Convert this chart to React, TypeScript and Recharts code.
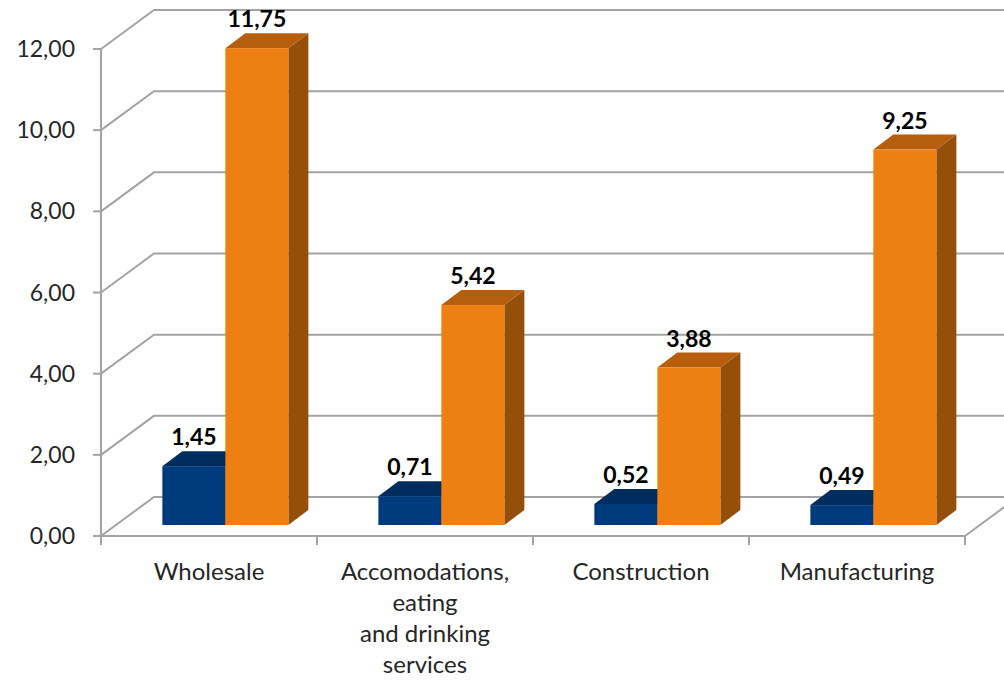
import React from "react";
import { BarChart, Bar, XAxis, YAxis, CartesianGrid, LabelList } from "recharts";

const categories = ["Wholesale", "Accomodations,\neating\nand drinking\nservices", "Construction", "Manufacturing"];
const blueValues = [1.45, 0.71, 0.52, 0.49];
const orangeValues = [11.75, 5.42, 3.88, 9.25];
const yTicks = [0, 2, 4, 6, 8, 10, 12];

const W = 1004, H = 680;
const M = { top: 49, right: 39, bottom: 0, left: 0 };
const Y_W = 101;
const X_H = 144;
const PLOT_W = W - M.left - M.right - Y_W;

// 3d look: back wall offset, bar offset inside the depth, bar depth
const WALL_DX = 53, WALL_DY = -39;
const SHIFT_X = 16, SHIFT_Y = -11;
const DEPTH_X = 20, DEPTH_Y = -15;

const GRID = "#a3a3a3";
const TEXT = "#262626";
const FONT = "Lato, 'Noto Sans', sans-serif";

const data = categories.map((c, i) => ({ name: c, blue: blueValues[i], orange: orangeValues[i] }));

const fmt = (v: number) => v.toFixed(2).replace(".", ",");

function make3d(front: string, top: string, side: string) {
  return (p: any) => {
    const { x, y, width: w, height: h } = p;
    if (w == null || h == null) return null;
    const fx = x + SHIFT_X, fy = y + SHIFT_Y;
    return (
      <g>
        <polygon
          points={`${fx + w},${fy} ${fx + w + DEPTH_X},${fy + DEPTH_Y} ${fx + w + DEPTH_X},${fy + h + DEPTH_Y} ${fx + w},${fy + h}`}
          fill={side}
        />
        <polygon
          points={`${fx},${fy} ${fx + DEPTH_X},${fy + DEPTH_Y} ${fx + w + DEPTH_X},${fy + DEPTH_Y} ${fx + w},${fy}`}
          fill={top}
        />
        <rect x={fx} y={fy} width={w} height={h} fill={front} />
      </g>
    );
  };
}

function ValueLabel(p: any) {
  const { x, y, width: w, value } = p;
  return (
    <text x={x + SHIFT_X + w / 2} y={y + SHIFT_Y + DEPTH_Y - 6} textAnchor="middle"
      fontFamily={FONT} fontWeight={700} fontSize={23} fill="#000">
      {fmt(value)}
    </text>
  );
}

function GridLine(p: any) {
  const { x1, x2, y1, index } = p;
  const bx = x1 + WALL_DX, by = y1 + WALL_DY;
  return (
    <g key={`g-${index}-${y1}`}>
      <polyline points={`${x1},${y1} ${bx},${by} ${x2 + WALL_DX + 40},${by}`} fill="none" stroke={GRID} strokeWidth={2} />
      {y1 > 500 && (
        <line x1={x2} y1={y1} x2={x2 + WALL_DX} y2={by} stroke={GRID} strokeWidth={2} />
      )}
    </g>
  );
}

function CatTick(p: any) {
  const { x, y, payload, index } = p;
  const half = PLOT_W / categories.length / 2;
  const lines = String(payload.value).split("\n");
  return (
    <g>
      <line x1={x - half} y1={y} x2={x - half} y2={y + 9} stroke={GRID} strokeWidth={2} />
      {index === categories.length - 1 && (
        <line x1={x + half} y1={y} x2={x + half} y2={y + 9} stroke={GRID} strokeWidth={2} />
      )}
      <text textAnchor="middle" fontFamily={FONT} fontSize={24} fill={TEXT}>
        {lines.map((l, i) => (
          <tspan key={i} x={x} y={y + 44 + i * 31}>{l}</tspan>
        ))}
      </text>
    </g>
  );
}

export default function App() {
  return (
    <div style={{ position: "absolute", left: 0, top: 0, width: W, height: H, background: "#fff" }}>
      <BarChart width={W} height={H} data={data} margin={M} barCategoryGap="21%" barGap={0}>
        <CartesianGrid vertical={false} horizontal={GridLine} />
        <YAxis
          domain={[0, 12]}
          ticks={yTicks}
          width={Y_W}
          tickFormatter={fmt}
          tickSize={8}
          tickMargin={18}
          axisLine={{ stroke: GRID, strokeWidth: 2 }}
          tickLine={{ stroke: GRID, strokeWidth: 2 }}
          tick={{ fontFamily: FONT, fontSize: 23, fill: TEXT }}
        />
        <XAxis
          dataKey="name"
          height={X_H}
          interval={0}
          tickSize={0}
          tickMargin={0}
          tickLine={false}
          axisLine={{ stroke: GRID, strokeWidth: 2 }}
          tick={<CatTick />}
        />
        <Bar dataKey="blue" isAnimationActive={false} shape={make3d("#003b7d", "#002c5e", "#00264f")}>
          <LabelList dataKey="blue" content={<ValueLabel />} />
        </Bar>
        <Bar dataKey="orange" isAnimationActive={false} shape={make3d("#ee7f12", "#b65e0c", "#944f0b")}>
          <LabelList dataKey="orange" content={<ValueLabel />} />
        </Bar>
      </BarChart>
    </div>
  );
}
